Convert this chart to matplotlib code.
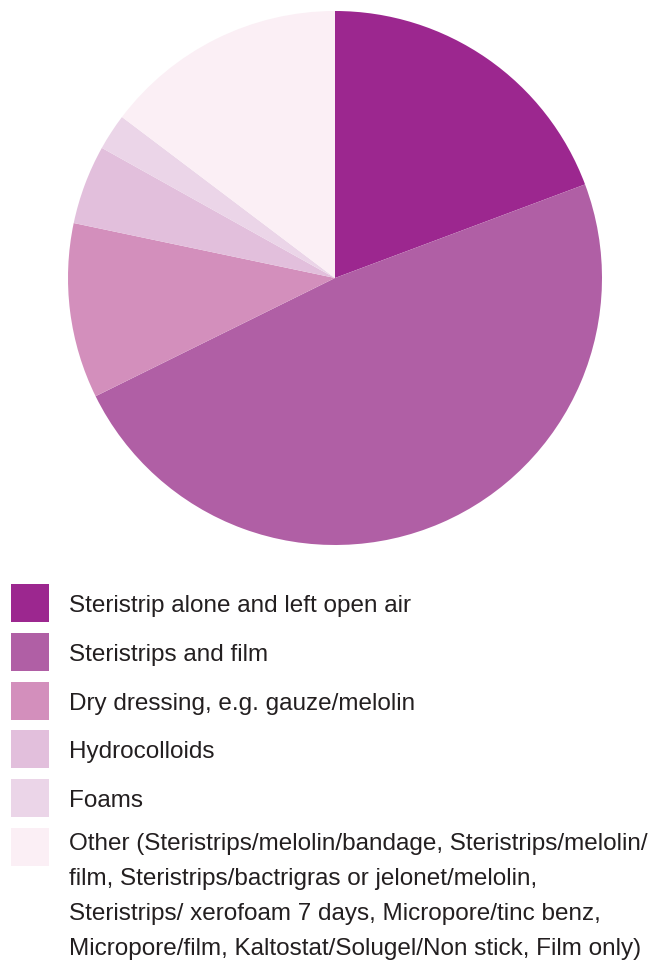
import matplotlib
matplotlib.use("Agg")
import matplotlib.pyplot as plt
from matplotlib.patches import Rectangle

plt.rcParams["font.family"] = ["Liberation Sans", "DejaVu Sans"]

labels = [
    "Steristrip alone and left open air",
    "Steristrips and film",
    "Dry dressing, e.g. gauze/melolin",
    "Hydrocolloids",
    "Foams",
    "Other (Steristrips/melolin/bandage, Steristrips/melolin/\n"
    "film, Steristrips/bactrigras or jelonet/melolin,\n"
    "Steristrips/ xerofoam 7 days, Micropore/tinc benz,\n"
    "Micropore/film, Kaltostat/Solugel/Non stick, Film only)",
]
values = [19.3, 48.4, 10.6, 4.8, 2.2, 14.7]
colors = ["#9C278F", "#B05FA5", "#D38FBC", "#E2BFDC", "#EBD5E8", "#FBEFF5"]

W, H = 654, 961
fig = plt.figure(figsize=(W / 100, H / 100), dpi=100)

# pie: centre (335, 278) px, radius 267 px
cx, cy, r = 335, 278, 267
ax = fig.add_axes([(cx - r) / W, 1 - (cy + r) / H, 2 * r / W, 2 * r / H])
ax.pie(values, colors=colors, startangle=90, counterclock=False, radius=1,
       wedgeprops=dict(linewidth=0))
ax.set_xlim(-1, 1)
ax.set_ylim(-1, 1)
ax.set_aspect("equal")
ax.axis("off")

# legend drawn in pixel coordinates
lg = fig.add_axes([0, 0, 1, 1])
lg.set_xlim(0, W)
lg.set_ylim(H, 0)
lg.axis("off")
row_top = 584
step = 48.8
for i, (lab, col) in enumerate(zip(labels, colors)):
    y = row_top + i * step
    lg.add_patch(Rectangle((11, y), 38, 38, facecolor=col, edgecolor="none"))
    if "\n" in lab:
        lg.text(69, y + 5, lab, fontsize=17.5, color="#231F20",
                va="top", ha="left", linespacing=1.76)
    else:
        lg.text(69, y + 22, lab, fontsize=17.5, color="#231F20",
                va="center", ha="left")

fig.savefig("out.png", dpi=100, facecolor="white")
